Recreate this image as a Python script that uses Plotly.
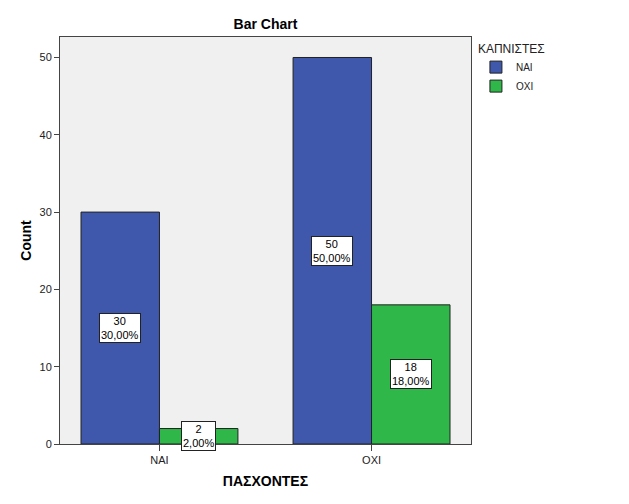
import plotly.graph_objects as go

categories = ["ΝΑΙ", "ΟΧΙ"]
series_names = ["ΝΑΙ", "ΟΧΙ"]
counts_nai = [30, 50]
counts_oxi = [2, 18]
pct_nai = ["30,00%", "50,00%"]
pct_oxi = ["2,00%", "18,00%"]
y_ticks = [0, 10, 20, 30, 40, 50]

colors = ["#3F58AB", "#2FB74A"]
font_family = "Liberation Sans, Arial, sans-serif"

fig = go.Figure()
for name, vals, col in zip(series_names, [counts_nai, counts_oxi], colors):
    fig.add_trace(go.Bar(
        x=categories, y=vals, name=name,
        marker=dict(color=col, line=dict(color="#222222", width=1)),
    ))

group_w = 1 - 0.26
offsets = [-group_w / 4, group_w / 4]
annotations = []
for si, (vals, pcts) in enumerate([(counts_nai, pct_nai), (counts_oxi, pct_oxi)]):
    for ci, (v, p) in enumerate(zip(vals, pcts)):
        annotations.append(dict(
            x=ci + offsets[si], y=v / 2, xref="x", yref="y",
            text=f"{v}<br>{p}", showarrow=False,
            font=dict(family=font_family, size=11, color="black"),
            bgcolor="white", bordercolor="#222222", borderwidth=1, borderpad=1,
        ))

fig.update_layout(
    width=629, height=504,
    margin=dict(l=60, r=158, t=37, b=60),
    paper_bgcolor="white", plot_bgcolor="#F0F0F0",
    barmode="group", bargap=0.26, bargroupgap=0,
    font=dict(family=font_family, size=11, color="#222222"),
    title=dict(text="<b>Bar Chart</b>", x=0.5, xref="paper", xanchor="center",
               y=1 - 24 / 504, yref="container", yanchor="middle",
               font=dict(size=14, color="black")),
    annotations=annotations,
    showlegend=True,
    legend=dict(
        title=dict(text="ΚΑΠΝΙΣΤΕΣ", font=dict(size=12, color="#222222")),
        x=1.012, xanchor="left", y=1.0, yanchor="top",
        font=dict(size=10, color="#222222"),
        itemwidth=30, tracegroupgap=0, bgcolor="rgba(0,0,0,0)",
    ),
    xaxis=dict(
        type="category", range=[-0.469, 1.469],
        showline=True, linecolor="#444444", linewidth=1, mirror=True,
        ticks="outside", ticklen=6, tickcolor="#444444",
        tickfont=dict(size=11, color="#222222"),
        title=dict(text="<b>ΠΑΣΧΟΝΤΕΣ</b>", font=dict(size=14, color="black"), standoff=10),
        showgrid=False,
    ),
    yaxis=dict(
        range=[0, 52.65], tickvals=y_ticks,
        showline=True, linecolor="#444444", linewidth=1, mirror=True,
        ticks="outside", ticklen=5, tickcolor="#444444",
        tickfont=dict(size=11, color="#222222"),
        title=dict(text="<b>Count</b>", font=dict(size=14, color="black"), standoff=4),
        showgrid=False, zeroline=False,
    ),
)

fig.write_html("out.html")
